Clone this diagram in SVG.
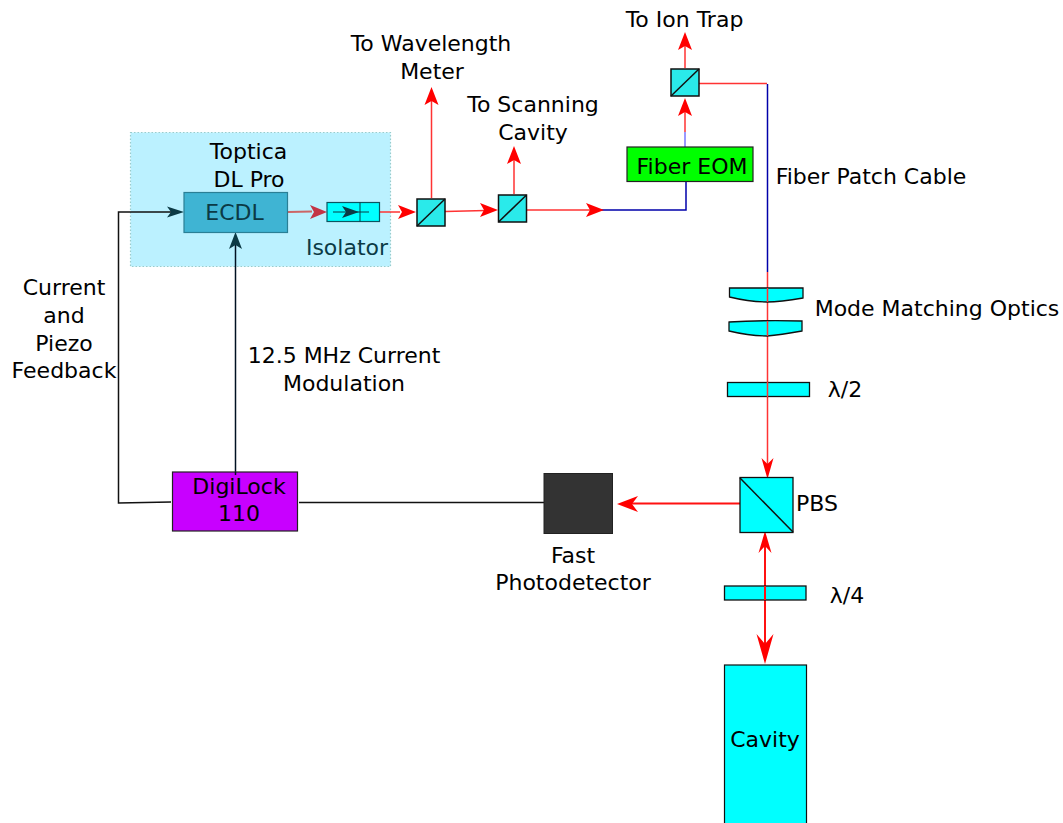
<svg xmlns="http://www.w3.org/2000/svg" width="1063" height="823" viewBox="0 0 1063 823">
<style>
text{font-family:"DejaVu Sans",sans-serif;font-size:22px;fill:#000;text-anchor:middle}
.r{stroke:#f33;stroke-width:1.500;fill:none}
.r2{stroke:#f11;stroke-width:2;fill:none}
.b{stroke:#00a;stroke-width:1.500;fill:none}
.k{stroke:#111;stroke-width:1.500;fill:none}
.bs{fill:#2aeaea;stroke:#111;stroke-width:1.500}
.el{fill:#0ff;stroke:#111;stroke-width:1.300}
.ah{fill:#f00}
</style>
<rect width="1063" height="823" fill="#fff"/>
<g id="toptica">
<rect x="130.500" y="132.500" width="260" height="134" fill="#bbf1ff" stroke="#9cc" stroke-width="1.200" stroke-dasharray="1.500 2"/>
<text x="248.500" y="159">Toptica</text>
<text x="249" y="187">DL Pro</text>
</g>
<g id="connectors">
<path class="k" d="M171 502L118.500 503V212H172"/>
<path d="M235.500 472V245" stroke="#012" stroke-width="1.500" fill="none"/>
<path class="k" d="M299 502.500H545"/>
<path d="M288 212L312 211.500" stroke="#c66" stroke-width="1.800" fill="none"/>
<path class="r" d="M380 212H400"/>
<path class="r" d="M431.500 198V100M445 211.500L486 210.500M514 194V160M527 210H590"/>
<path class="b" d="M600 210H686V182"/>
<path d="M685 165V132" stroke="#77f" stroke-width="1.500"/>
<path class="r" d="M685 132V112M685 68V46M699 83.500H767"/>
<path class="b" d="M767.500 84V272"/>
<path class="r" d="M767.500 272V465"/>
<path class="r2" d="M740 503.500H630M765 545V650"/>
<path d="M184 212L167 206.500L171 212L167 217.500Z" fill="#0b3a45"/>
<path d="M235.500 232L229 249L235.500 245L242 249Z" fill="#0b3a45"/>
<path d="M327 212L310 205L314 212L310 219Z" fill="#c33445"/>
<path class="ah" d="M416 212L398 205L402 212L398 219Z"/>
<path class="ah" d="M498 210L480 203L484 210L480 217Z"/>
<path class="ah" d="M604 210L586 203L590 210L586 217Z"/>
<path class="ah" d="M431.500 87L424.500 105L431.500 101L438.500 105Z"/>
<path class="ah" d="M514 146L507 164L514 160L521 164Z"/>
<path class="ah" d="M685 98L678 116L685 112L692 116Z"/>
<path class="ah" d="M685 32L678 50L685 46L692 50Z"/>
<path class="ah" d="M767.500 479L761.500 458L767.500 464L773.500 458Z"/>
<path class="ah" d="M617 504L638 496L632 504L638 512Z"/>
<path class="ah" d="M765 531L758.500 553L765 546L771.500 553Z"/>
<path class="ah" d="M765 664L756.500 634L765 644L773.500 634Z"/>
</g>
<g id="ecdl"><rect x="184" y="192.500" width="103.500" height="40" fill="#3fb4d3" stroke="#2a7f95" stroke-width="1.200"/><text x="234.500" y="220" style="fill:#0b3a45">ECDL</text></g>
<g id="isolator">
<rect x="327" y="202.500" width="52.500" height="19" fill="#0ff" stroke="#0b5560" stroke-width="1.200"/>
<path d="M360 202.500V221.500M333 212H369" stroke="#0b3a45" stroke-width="1" fill="none"/>
<path d="M359 212L342 206L346 212L342 218Z" fill="#0b3a45"/>
<text x="347" y="255" style="fill:#0b3a45">Isolator</text>
</g>
<g id="bs1"><rect class="bs" x="417" y="199" width="28" height="27"/><path class="k" d="M417 226L445 199"/></g>
<g id="bs2"><rect class="bs" x="498.500" y="195" width="28" height="27"/><path class="k" d="M498.500 222L526.500 195"/></g>
<g id="bs3"><rect class="bs" x="671" y="69" width="28" height="27"/><path class="k" d="M671 96L699 69"/></g>
<g id="eom"><rect x="627" y="147" width="126" height="34.500" fill="#0f0" stroke="#222" stroke-width="1.200"/><text x="692" y="174">Fiber EOM</text></g>
<g id="lens1"><path class="el" d="M729.500 288H803V298Q780 302 767 302Q750 302 729.500 297Z"/></g>
<g id="lens2"><path class="el" d="M729 322Q760 320 802 321V331Q780 335 767 336Q750 336 729 331Z"/></g>
<g id="hwp"><rect class="el" x="727.500" y="382.500" width="82" height="14"/></g>
<g id="pbs"><rect x="740" y="477.500" width="53" height="55" fill="#0ff" stroke="#111" stroke-width="1.300"/><path class="k" d="M740 478L793 532"/><text x="817" y="511">PBS</text></g>
<g id="qwp"><rect class="el" x="724.500" y="586" width="81.500" height="14"/></g>
<path class="r2" d="M765 586V600"/>
<path class="r" d="M767.500 288V302M767.500 321V336M767.500 382V397"/>
<g id="cavity"><rect x="724.500" y="665" width="82" height="165" fill="#0ff" stroke="#111" stroke-width="1.200"/><text x="765" y="747">Cavity</text></g>
<g id="pd"><rect x="544" y="473.500" width="68.500" height="60" fill="#333" stroke="#222"/></g>
<g id="digilock"><rect x="172.500" y="472" width="125" height="59" fill="#c800ff" stroke="#222" stroke-width="1.200"/><text x="239" y="494">DigiLock</text><text x="239" y="521">110</text></g>
<path d="M235.500 472V475" stroke="#012" stroke-width="1.500"/>
<g id="labels">
<text x="684.500" y="27">To Ion Trap</text>
<text x="431" y="51">To Wavelength</text>
<text x="432" y="79">Meter</text>
<text x="533" y="112">To Scanning</text>
<text x="533" y="140">Cavity</text>
<text x="871" y="184">Fiber Patch Cable</text>
<text x="937" y="316">Mode Matching Optics</text>
<text x="845" y="397">λ/2</text>
<text x="847" y="603">λ/4</text>
<text x="64" y="295">Current</text>
<text x="64" y="323">and</text>
<text x="64" y="351">Piezo</text>
<text x="64" y="378">Feedback</text>
<text x="344" y="363">12.5 MHz Current</text>
<text x="344" y="391">Modulation</text>
<text x="573" y="563">Fast</text>
<text x="573" y="590">Photodetector</text>
</g>
</svg>
